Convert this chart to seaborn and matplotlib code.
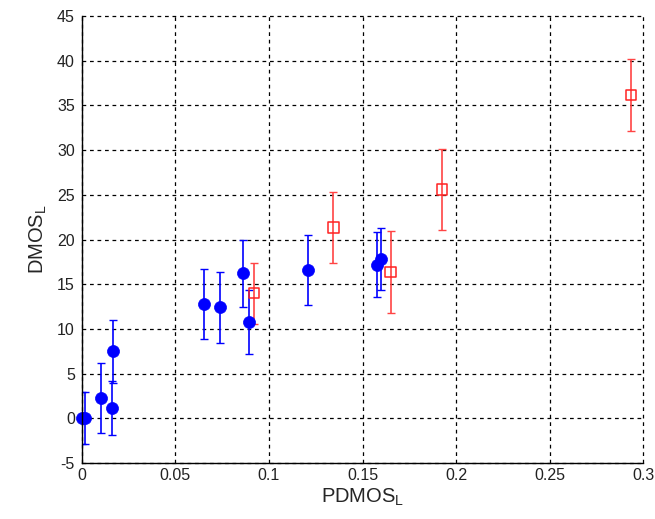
import matplotlib
matplotlib.use("Agg")
import matplotlib.pyplot as plt
import seaborn as sns
import pandas as pd

# Blue group (filled circles)
blue_x = [0.0003, 0.0015, 0.010, 0.0167, 0.0162, 0.0654, 0.074, 0.0859, 0.0891, 0.121, 0.1578, 0.1596]
blue_y = [0.0, 0.0, 2.3, 7.5, 1.15, 12.8, 12.4, 16.2, 10.8, 16.6, 17.2, 17.8]
blue_err = [2.9, 2.9, 3.9, 3.55, 3.0, 3.95, 3.95, 3.8, 3.6, 3.9, 3.6, 3.5]

# Red group (open squares)
red_x = [0.092, 0.1344, 0.165, 0.1923, 0.2934]
red_y = [14.0, 21.35, 16.4, 25.6, 36.2]
red_err = [3.4, 4.0, 4.6, 4.5, 4.05]

xticks = [0, 0.05, 0.1, 0.15, 0.2, 0.25, 0.3]
xticklabels = ["0", "0.05", "0.1", "0.15", "0.2", "0.25", "0.3"]
yticks = [-5, 0, 5, 10, 15, 20, 25, 30, 35, 40, 45]

sns.set_style("white")
plt.rcParams['font.family'] = ['Liberation Sans', 'DejaVu Sans']
plt.rcParams['mathtext.fontset'] = 'custom'
plt.rcParams['mathtext.rm'] = 'Liberation Sans'
plt.rcParams['axes.unicode_minus'] = False

fig = plt.figure(figsize=(6.55, 5.19), dpi=100)
ax = fig.add_axes([0.125, 0.108, 0.857, 0.861])

blue_df = pd.DataFrame({"x": blue_x, "y": blue_y})
red_df = pd.DataFrame({"x": red_x, "y": red_y})

ax.errorbar(blue_x, blue_y, yerr=blue_err, fmt='none', ecolor='#0000ff',
            elinewidth=1.2, capsize=3, capthick=1.0, zorder=3)
ax.errorbar(red_x, red_y, yerr=red_err, fmt='none', ecolor='#ff4444',
            elinewidth=1.2, capsize=3, capthick=1.0, zorder=3)

sns.scatterplot(data=blue_df, x="x", y="y", ax=ax, marker='o', s=75,
                color='#0000ff', edgecolor='#0000ff', linewidth=0.5, zorder=4,
                clip_on=False)
sns.scatterplot(data=red_df, x="x", y="y", ax=ax, marker='s', s=55,
                facecolor='none', edgecolor='#ff2222', linewidth=1.1, zorder=4)

ax.set_xlim(0, 0.3)
ax.set_ylim(-5, 45)
ax.set_xticks(xticks)
ax.set_xticklabels(xticklabels)
ax.set_yticks(yticks)
ax.tick_params(axis='both', labelsize=11.5, direction='in', length=4,
               colors='black', labelcolor='#222222')
ax.tick_params(axis='y', pad=5)
ax.tick_params(axis='x', pad=3.5)
ax.grid(True, color='black', linestyle=(0, (3, 3)), linewidth=0.9)
for gl in ax.get_xgridlines() + ax.get_ygridlines():
    gl.set_clip_on(False)
ax.spines['top'].set_visible(False)
ax.spines['right'].set_visible(False)
for side in ('left', 'bottom'):
    ax.spines[side].set_color('black')
    ax.spines[side].set_linewidth(1.0)
    ax.spines[side].set_zorder(5)

ax.set_xlabel(r"PDMOS$_\mathregular{L}$", fontsize=14.5, labelpad=3)
ax.set_ylabel(r"DMOS$_\mathregular{L}$", fontsize=14.5, labelpad=6)

fig.savefig("out.png", dpi=100)
